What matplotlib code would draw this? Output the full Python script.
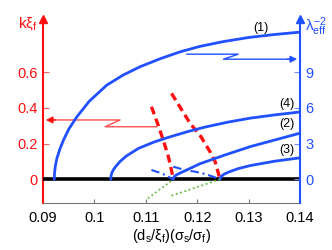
import matplotlib
matplotlib.use("Agg")
import matplotlib.pyplot as plt

plt.rcParams['font.family'] = ['Liberation Sans', 'DejaVu Sans']
plt.rcParams['mathtext.fontset'] = 'custom'
plt.rcParams['mathtext.rm'] = 'Liberation Sans'
plt.rcParams['mathtext.it'] = 'Liberation Sans'

BLUE = '#2050ff'
RED = '#ff1010'

# lambda_eff^-2 curves (right axis)
x1 = [0.0922, 0.09225, 0.0924, 0.0927, 0.0933, 0.0940, 0.0950, 0.0966, 0.0990, 0.1024, 0.1056,
      0.1089, 0.1130, 0.1167, 0.1205, 0.1250, 0.1300, 0.1350, 0.1400]
lam1 = [0.0, 0.55, 1.1, 1.75, 2.55, 3.3, 4.2, 5.25, 6.55, 7.9, 8.75,
        9.45, 10.15, 10.7, 11.15, 11.55, 11.9, 12.15, 12.35]
x4 = [0.1032, 0.10325, 0.1034, 0.1037, 0.1041, 0.1050, 0.1062, 0.1086, 0.1118, 0.1150, 0.1183,
      0.1215, 0.1260, 0.1303, 0.1350, 0.1400]
lam4 = [0.0, 0.3, 0.55, 0.8, 1.05, 1.5, 1.95, 2.6, 3.16, 3.6, 4.02,
        4.38, 4.80, 5.13, 5.40, 5.65]
x2 = [0.11535, 0.1154, 0.1156, 0.1160, 0.1168, 0.1183, 0.1205, 0.1254, 0.1303, 0.1351, 0.1400]
lam2 = [0.0, 0.12, 0.25, 0.38, 0.55, 0.85, 1.3, 2.04, 2.74, 3.30, 3.87]
x3 = [0.12444, 0.1245, 0.1247, 0.1252, 0.1262, 0.1280, 0.1303, 0.1351, 0.1400]
lam3 = [0.0, 0.12, 0.25, 0.42, 0.62, 0.9, 1.15, 1.52, 1.80]

# k*xi_f (left axis)
xa = [0.1111, 0.1124, 0.1135, 0.1144, 0.1152, 0.11538]
ka = [0.406, 0.304, 0.21, 0.126, 0.024, 0.0]
xb = [0.1150, 0.1170, 0.1186, 0.1207, 0.1225, 0.1235, 0.12444]
kb = [0.481, 0.388, 0.314, 0.24, 0.154, 0.098, 0.0]

# dash-dot (right axis)
xc = [0.1111, 0.1131, 0.1150, 0.11538]
lc = [0.78, 0.5, 0.08, 0.0]
xd = [0.11535, 0.1176, 0.1196, 0.1215, 0.1231, 0.12444]
ld = [1.06, 0.78, 0.64, 0.45, 0.22, 0.0]

# dotted (right axis)
xe = [0.1104, 0.11538]
le = [-1.6, 0.0]
xf = [0.1150, 0.12444]
lf = [-1.38, 0.0]

xticks = [0.09, 0.10, 0.11, 0.12, 0.13, 0.14]
xtick_labels = ['0.09', '0.1', '0.11', '0.12', '0.13', '0.14']
kticks = [0, 0.2, 0.4, 0.6]
ktick_labels = ['0', '0.2', '0.4', '0.6']
lticks = [0, 3, 6, 9]

labels = ['(1)', '(4)', '(2)', '(3)']
lab_x = [0.1323, 0.1375, 0.1375, 0.1375]
lab_y = [12.7, 6.3, 4.6, 2.5]

fig = plt.figure(figsize=(3.32, 2.5), dpi=100)
ax = fig.add_axes([0.1295, 0.188, 0.7741, 0.736])
ax2 = ax.twinx()

kmin, kmax = -0.1326, 0.8968
ax.set_xlim(0.09, 0.14)
ax.set_ylim(kmin, kmax)
ax2.set_ylim(kmin * 15, kmax * 15)

ax.axhline(0, color='black', lw=2.6, zorder=3)

for xs, ys in [(x1, lam1), (x4, lam4), (x2, lam2), (x3, lam3)]:
    ax2.plot(xs, ys, color=BLUE, lw=2.0, solid_capstyle='round', solid_joinstyle='round')
ax2.plot(xc, lc, color=BLUE, lw=1.5, ls=(0, (4, 1.8, 1, 1.8)))
ax2.plot(xd, ld, color=BLUE, lw=1.5, ls=(0, (4, 1.8, 1, 1.8)))
ax2.plot(xe, le, color='#66bb44', lw=1.3, ls=(0, (1, 1.5)))
ax2.plot(xf, lf, color='#66bb44', lw=1.3, ls=(0, (1, 1.5)))
ax.plot(xa, ka, color=RED, lw=2.4, ls=(0, (2.4, 1.4)), zorder=4)
ax.plot(xb, kb, color=RED, lw=2.4, ls=(0, (2.4, 1.4)), zorder=4)

# pointer arrows
ax.plot([0.1121, 0.1021, 0.1050, 0.0915], [0.294, 0.294, 0.332, 0.332], color='#ff5050', lw=1.0)
ax.annotate('', xy=(0.09, 0.332), xytext=(0.093, 0.332),
            arrowprops=dict(arrowstyle='-|>', color=RED, lw=1.0, mutation_scale=10))
ax2.plot([0.1180, 0.1280, 0.1251, 0.1385], [10.5, 10.5, 10.08, 10.08], color=BLUE, lw=1.0)
ax2.annotate('', xy=(0.14, 10.08), xytext=(0.137, 10.08),
             arrowprops=dict(arrowstyle='-|>', color=BLUE, lw=1.0, mutation_scale=10))

for lab, lx, ly in zip(labels, lab_x, lab_y):
    ax2.text(lx, ly, lab, fontsize=9, ha='center', va='center', color='black')

# spines
for s in ['top', 'right']:
    ax.spines[s].set_visible(False)
for s in ['top', 'left', 'bottom']:
    ax2.spines[s].set_visible(False)
ax.spines['left'].set_color(RED)
ax.spines['left'].set_linewidth(1.5)
ax.spines['bottom'].set_color('#777777')
ax2.spines['right'].set_color(BLUE)
ax2.spines['right'].set_linewidth(1.5)

ax.set_xticks(xticks)
ax.set_xticklabels(xtick_labels)
ax.set_yticks(kticks)
ax.set_yticklabels(ktick_labels)
ax2.set_yticks(lticks)
ax.tick_params(axis='x', direction='in', length=3, color='#777777', labelsize=10.5, pad=6)
ax.tick_params(axis='y', direction='in', length=4, color='#ff6060', labelcolor=RED, labelsize=10.5, pad=4)
ax2.tick_params(axis='y', direction='in', length=4, color='#7090ff', labelcolor=BLUE, labelsize=10.5, pad=4)

# arrow heads on spines
ax.plot([0.09], [kmax], marker='^', color=RED, ms=6, clip_on=False, zorder=5)
ax2.plot([0.14], [kmax * 15], marker='^', color=BLUE, ms=6, clip_on=False, zorder=5)

fig.text(0.055, 0.905, r'k$\xi_\mathrm{f}$', color=RED, fontsize=11, ha='left', va='center')
fig.text(0.918, 0.895, r'$\lambda_\mathrm{eff}^{-2}$', color=BLUE, fontsize=11, ha='left', va='center')
ax.set_xlabel(r'$(\mathrm{d_s}/\xi_\mathrm{f})(\sigma_\mathrm{s}/\sigma_\mathrm{f})$', fontsize=10.5, labelpad=1)

fig.savefig('out.png', dpi=100)
